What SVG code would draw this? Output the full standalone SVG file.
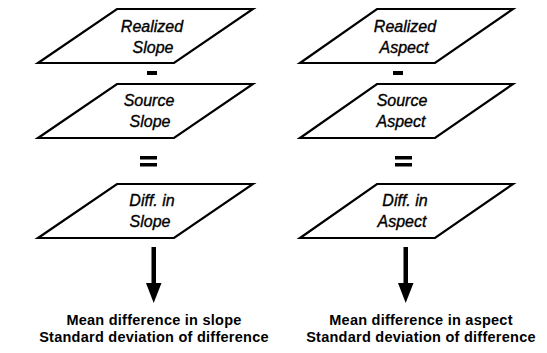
<svg xmlns="http://www.w3.org/2000/svg" width="547" height="353" viewBox="0 0 547 353">
<style>
.io{fill:#fff;stroke:#000;stroke-width:2.2;stroke-linejoin:miter}
.lbl{font-family:"Liberation Sans",Arial,sans-serif;font-style:italic;font-size:16px;fill:#000;stroke:#000;stroke-width:0.35;text-anchor:middle}
.res{font-family:"Liberation Sans",Arial,sans-serif;font-weight:bold;font-size:14.5px;letter-spacing:0.25px;fill:#000;text-anchor:middle}
.op{fill:#000}
</style>
<rect width="547" height="353" fill="#fff"/>
<g id="realized-slope"><polygon class="io" points="117,9 253,9 174,63 38,63"/><text class="lbl" x="152" y="32">Realized</text><text class="lbl" x="153" y="53">Slope</text></g>
<g id="source-slope"><polygon class="io" points="117,84 253,84 174,138 38,138"/><text class="lbl" x="149" y="106">Source</text><text class="lbl" x="150" y="127">Slope</text></g>
<g id="diff-slope"><polygon class="io" points="117,184 253,184 174,238 38,238"/><text class="lbl" x="152" y="206">Diff. in</text><text class="lbl" x="150" y="227">Slope</text></g>
<g id="result-slope"><text class="res" x="154" y="325">Mean difference in slope</text><text class="res" x="154" y="342">Standard deviation of difference</text></g>
<g id="realized-aspect"><polygon class="io" points="377,9 513,9 435,63 300,63"/><text class="lbl" x="405" y="32">Realized</text><text class="lbl" x="404" y="53">Aspect</text></g>
<g id="source-aspect"><polygon class="io" points="377,84 513,84 435,138 300,138"/><text class="lbl" x="402" y="106">Source</text><text class="lbl" x="401" y="127">Aspect</text></g>
<g id="diff-aspect"><polygon class="io" points="377,184 513,184 435,238 300,238"/><text class="lbl" x="405" y="206">Diff. in</text><text class="lbl" x="402" y="227">Aspect</text></g>
<g id="result-aspect"><text class="res" x="421" y="325">Mean difference in aspect</text><text class="res" x="421" y="342">Standard deviation of difference</text></g>
<g id="connectors">
<rect class="op" x="147" y="71" width="10" height="4"/>
<rect class="op" x="140" y="156" width="17" height="3.5"/>
<rect class="op" x="140" y="163" width="17" height="3.5"/>
<rect class="op" x="151.5" y="247" width="4.5" height="37"/>
<polygon class="op" points="146,283 161.5,283 153.7,303"/>
<rect class="op" x="393" y="71" width="10" height="4"/>
<rect class="op" x="395" y="156" width="17" height="3.5"/>
<rect class="op" x="395" y="163" width="17" height="3.5"/>
<rect class="op" x="403.5" y="247" width="4.5" height="37"/>
<polygon class="op" points="398,283 413.5,283 405.7,303"/>
</g>
</svg>
